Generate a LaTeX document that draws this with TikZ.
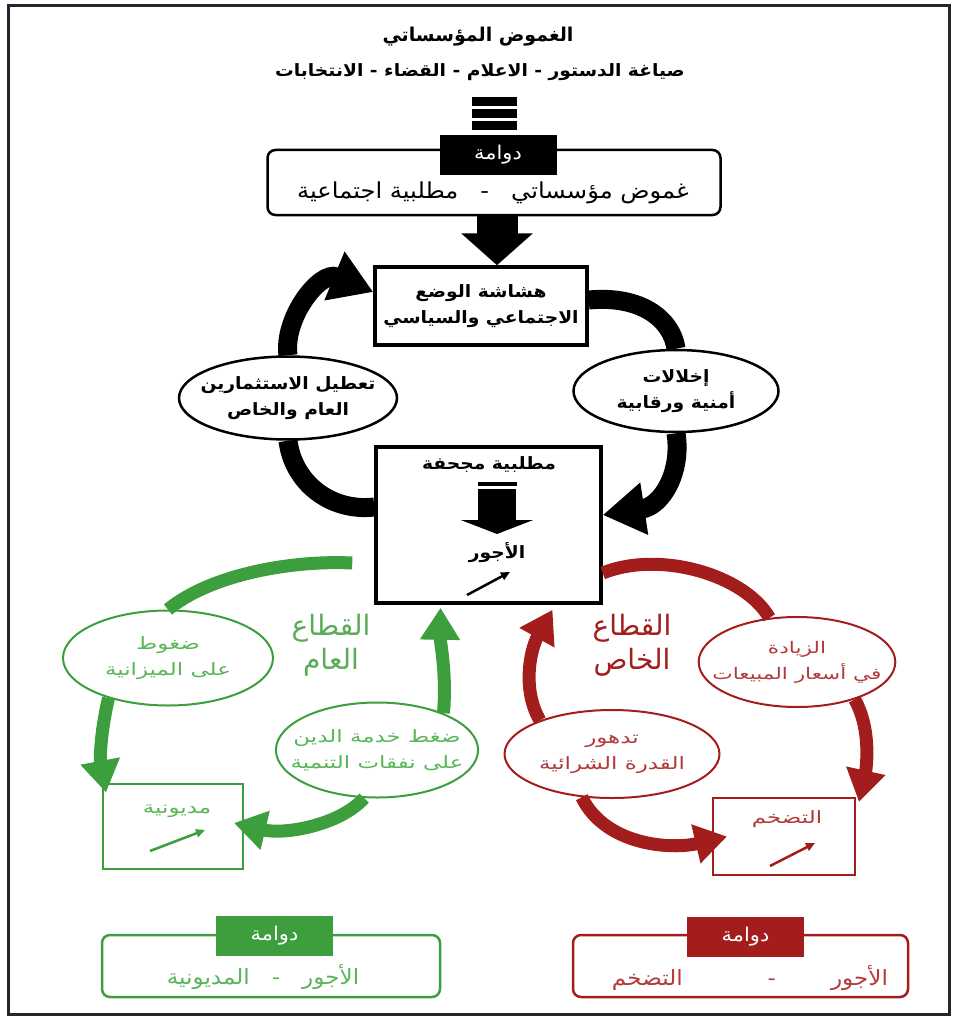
\documentclass[tikz,border=0pt]{standalone}
\usepackage{fontspec}
\usepackage{tikz}
\usetikzlibrary{shapes.geometric,arrows.meta}
\TeXXeTstate=1
\newfontfamily\arabicplain[Script=Arabic]{DejaVu Sans}
\newfontfamily\arabicfont[Script=Arabic,FakeStretch=1.1]{DejaVu Sans}
\newfontfamily\arabicwide[Script=Arabic,FakeStretch=1.35]{DejaVu Sans}
\newcommand{\rtltext}[1]{\beginR #1\endR}
\definecolor{framecol}{HTML}{25252F}
\definecolor{pubgreen}{HTML}{3C9E3C}
\definecolor{pubtext}{HTML}{5AB55A}
\definecolor{privred}{HTML}{A31D1D}
\definecolor{privtext}{HTML}{B23A3A}

\begin{document}
\begin{tikzpicture}[x=1pt,y=-1pt,
  every node/.style={font=\arabicfont},
  bigbox/.style={draw, line width=3.5pt, fill=white},
  smallbox/.style={draw, line width=2pt, fill=white},
  oval/.style={ellipse, draw, line width=2.5pt, fill=white, inner xsep=-15pt, inner ysep=0pt, align=center},
  boldtxt/.style={font=\arabicfont\bfseries\fontsize{17}{26}\selectfont},
  softtxt/.style={font=\arabicwide\fontsize{17}{26}\selectfont},
  swirlbox/.style={draw, rounded corners=8pt, line width=2.5pt},
  swirltag/.style={text=white, font=\arabicfont\fontsize{19}{22}\selectfont,
    minimum width=117pt, minimum height=40pt, inner sep=0pt},
  band/.style={line width=19pt},
  thinband/.style={line width=13pt},
  bandtip/.style={-{Triangle[length=42pt,width=50pt]}},
  colortip/.style={-{Triangle[length=32pt,width=38pt]}},
  risearrow/.style={line width=2.5pt, -{Triangle[length=9pt,width=8pt]}}
]
\useasboundingbox (0,0) rectangle (955,1019);
\draw[framecol, line width=3pt] (8,6) rectangle (949,1014);

\node[font=\arabicplain\bfseries\fontsize{19}{22}\selectfont] (title) at (478,37) {\rtltext{الغموض المؤسساتي}};
\node[font=\arabicfont\bfseries\fontsize{17}{20}\selectfont] (subtitle) at (480,72) {\rtltext{صياغة الدستور - الاعلام - القضاء - الانتخابات}};
\foreach \y in {97,109,121}
  \fill (472,\y) rectangle (517,\y+9);

\node[swirlbox, minimum width=453pt, minimum height=65pt] (topswirl) at (494,182.5) {};
\node[swirltag, fill=black] (toptag) at (498,155) {\rtltext{دوامة}};
\node[font=\arabicfont\fontsize{22}{24}\selectfont] (toppair) at (493,193) {\rtltext{غموض مؤسساتي\quad -\quad مطلبية اجتماعية}};

\node[bigbox, boldtxt, align=center, minimum width=212pt, minimum height=78pt] (topbox) at (481,306)
  {\rtltext{هشاشة الوضع}\\\rtltext{الاجتماعي والسياسي}};
\draw[line width=41pt, -{Triangle[length=32pt,width=70pt]}] (topswirl.south -| 497,0) -- (topbox.north -| 497,0);

\node[bigbox, minimum width=225pt, minimum height=156pt] (wagebox) at (488.5,525) {};
\node[boldtxt] (demand) at (489,465) {\rtltext{مطلبية مجحفة}};
\node[boldtxt] (wages) at (497,553) {\rtltext{الأجور}};
\coordinate (dropstart) at (497,489);
\coordinate (dropend) at (497,534);
\fill (478,482) rectangle (517,486);
\draw[line width=38pt, -{Triangle[length=14pt,width=72pt]}] (dropstart) -- (dropend);
\draw[risearrow] (467,595) -- (510,572);

\node[oval, boldtxt, minimum width=218pt, minimum height=83pt] (investell) at (288,398)
  {\rtltext{تعطيل الاستثمارين}\\\rtltext{العام والخاص}};
\node[oval, boldtxt, minimum width=205pt, minimum height=82pt] (securityell) at (676,391)
  {\rtltext{إخلالات}\\\rtltext{أمنية ورقابية}};

\draw[band] ([yshift=18pt]wagebox.west) .. controls (330,512) and (293,482) .. (investell.south);
\draw[band, bandtip] (investell.north) .. controls (283,318) and (320,270) .. ([yshift=14pt]topbox.west);
\draw[band] ([yshift=6pt]topbox.east) .. controls (642,295) and (672,320) .. (securityell.north);
\draw[band, bandtip] (securityell.south) .. controls (682,472) and (662,506) .. ([yshift=10pt]wagebox.east);

\node[oval, draw=pubgreen, text=pubtext, softtxt, line width=2pt, minimum width=210pt, minimum height=95pt] (budgetell) at (168,658)
  {\rtltext{ضغوط}\\\rtltext{على الميزانية}};
\node[oval, draw=pubgreen, text=pubtext, softtxt, line width=2pt, minimum width=200pt, minimum height=95pt] (debtell) at (377,750)
  {\rtltext{ضغط خدمة الدين}\\\rtltext{على نفقات التنمية}};
\node[smallbox, draw=pubgreen, minimum width=140pt, minimum height=85pt] (mdbox) at (173,826) {};
\node[softtxt, text=pubtext] (mdtext) at (177,811) {\rtltext{مديونية}};
\draw[risearrow, pubgreen] (150,851) -- (205,830);
\node[text=pubgreen!85!white, font=\arabicplain\fontsize{28}{34}\selectfont, align=center] (publabel) at (331,645)
  {\rtltext{القطاع}\\\rtltext{العام}};

\draw[pubgreen, thinband] (budgetell.north) .. controls (210,575) and (290,560) .. ([xshift=-22pt,yshift=-38pt]wagebox.west);
\draw[pubgreen, thinband, colortip] (debtell.29) .. controls (447,675) and (440,640) .. ([xshift=-48pt,yshift=-3pt]wagebox.south);
\draw[pubgreen, thinband, colortip] (budgetell.214) .. controls (100,735) and (100,760) .. ([xshift=4pt,yshift=-10pt]mdbox.north west);
\draw[pubgreen, thinband, colortip] (debtell.255) .. controls (340,825) and (285,835) .. ([xshift=-10pt,yshift=3pt]mdbox.east);

\node[oval, draw=privred, text=privtext, softtxt, font=\arabicwide\fontsize{16}{26}\selectfont, line width=2pt, minimum width=192pt, minimum height=90pt] (saleell) at (797,662)
  {\rtltext{الزيادة}\\\rtltext{في أسعار المبيعات}};
\node[oval, draw=privred, text=privtext, softtxt, line width=2pt, minimum width=215pt, minimum height=88pt] (declell) at (612,754)
  {\rtltext{تدهور}\\\rtltext{القدرة الشرائية}};
\node[smallbox, draw=privred, minimum width=142pt, minimum height=77pt] (inflbox) at (784,836.5) {};
\node[softtxt, text=privtext] (infltext) at (787,819) {\rtltext{التضخم}};
\draw[risearrow, privred] (770,866) -- (815,843);
\node[text=privred, font=\arabicplain\fontsize{28}{34}\selectfont, align=center] (privlabel) at (632,645)
  {\rtltext{القطاع}\\\rtltext{الخاص}};

\draw[privred, thinband] ([yshift=-48pt]wagebox.east) .. controls (660,550) and (745,575) .. (saleell.122);
\draw[privred, thinband, colortip] (declell.155) .. controls (522,690) and (530,650) .. ([xshift=64pt,yshift=-5pt]wagebox.south);
\draw[privred, thinband, colortip] (saleell.327) .. controls (872,730) and (866,770) .. ([xshift=3pt,yshift=-5pt]inflbox.north east);
\draw[privred, thinband, colortip] (declell.235) .. controls (605,845) and (670,850) .. ([xshift=15pt]inflbox.west);

\node[swirlbox, draw=pubgreen, minimum width=338pt, minimum height=62pt] (pubswirl) at (271,966) {};
\node[swirltag, fill=pubgreen] (pubtag) at (274.5,936) {\rtltext{دوامة}};
\node[text=pubtext, font=\arabicfont\fontsize{21}{24}\selectfont] (pubpair) at (263,977) {\rtltext{الأجور\hspace{22pt}-\hspace{22pt}المديونية}};

\node[swirlbox, draw=privred, minimum width=335pt, minimum height=62pt] (privswirl) at (740.5,966) {};
\node[swirltag, fill=privred] (privtag) at (745.5,937) {\rtltext{دوامة}};
\node[text=privtext, font=\arabicfont\fontsize{21}{24}\selectfont] (privpair) at (750,978) {\rtltext{الأجور\hspace{55pt}-\hspace{85pt}التضخم}};
\end{tikzpicture}
\end{document}
